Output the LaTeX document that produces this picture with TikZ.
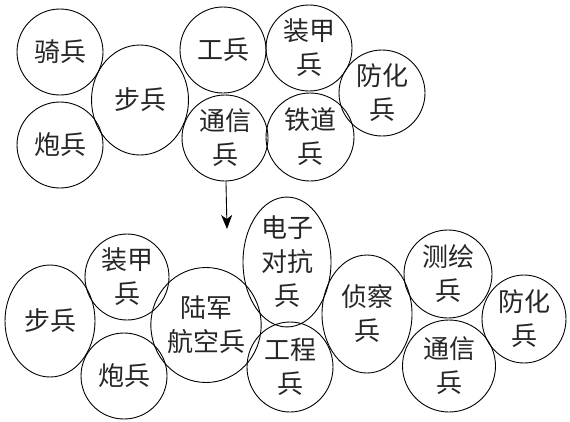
\documentclass[tikz,border=0pt]{standalone}
\usepackage{fontspec}
\newfontfamily\cjk{Noto Sans CJK SC}
\usetikzlibrary{arrows.meta, shapes.geometric}

\begin{document}
\begin{tikzpicture}[x=1pt, y=-1pt]
	\tikzset {>={Stealth[length=14pt, width=11pt, inset=4pt]}, arm/.style={draw, line width=0.9pt, ellipse, inner sep=0pt, align=center, font=\cjk\fontsize{26}{34}\selectfont, text=black!85}, ring/.style={arm, minimum width=86pt, minimum height=86pt} }
	\useasboundingbox (0,0) rectangle (570,421);

	% before
	\node[ring] (qi) at (60,52) {骑兵};
	\node[ring] (pao) at (60,145) {炮兵};
	\node[arm, minimum width=97pt, minimum height=110pt] (bu) at (140,100) {步兵};
	\node[ring] (gong) at (223,50) {工兵};
	\node[ring] (tong) at (225,138) {通信\\兵};
	\node[ring] (zhuang) at (309,48) {装甲\\兵};
	\node[ring, minimum width=88pt, minimum height=88pt] (tie) at (310,137) {铁道\\兵};
	\node[ring] (fang) at (382,93) {防化\\兵};

	% after
	\node[arm, minimum width=90pt, minimum height=112pt] (bu2) at (50,321) {步兵};
	\node[ring, minimum width=84pt, minimum height=86pt] (zhuang2) at (127,277) {装甲\\兵};
	\node[ring] (pao2) at (124,376) {炮兵};
	\node[arm, minimum width=98pt, minimum height=115pt] (hang) at (206,325) {陆军\\航空兵};
	\node[arm, minimum width=88pt, minimum height=119pt] (dian) at (287,262) {电子\\对抗\\兵};
	\node[ring, minimum width=86pt, minimum height=90pt] (gong2) at (290,367) {工程\\兵};
	\node[arm, minimum width=90pt, minimum height=118pt] (zhen) at (367,314) {侦察\\兵};
	\node[ring, minimum width=88pt, minimum height=88pt] (ce) at (448,274) {测绘\\兵};
	\node[ring, minimum width=93pt, minimum height=92pt] (tong2) at (449,366) {通信\\兵};
	\node[ring, minimum width=84pt, minimum height=88pt] (fang2) at (524,319) {防化\\兵};

	\coordinate (tip) at (227,229);
	\draw[->, line width=0.9pt] (tong) -- (tip);
\end{tikzpicture}
\end{document}
